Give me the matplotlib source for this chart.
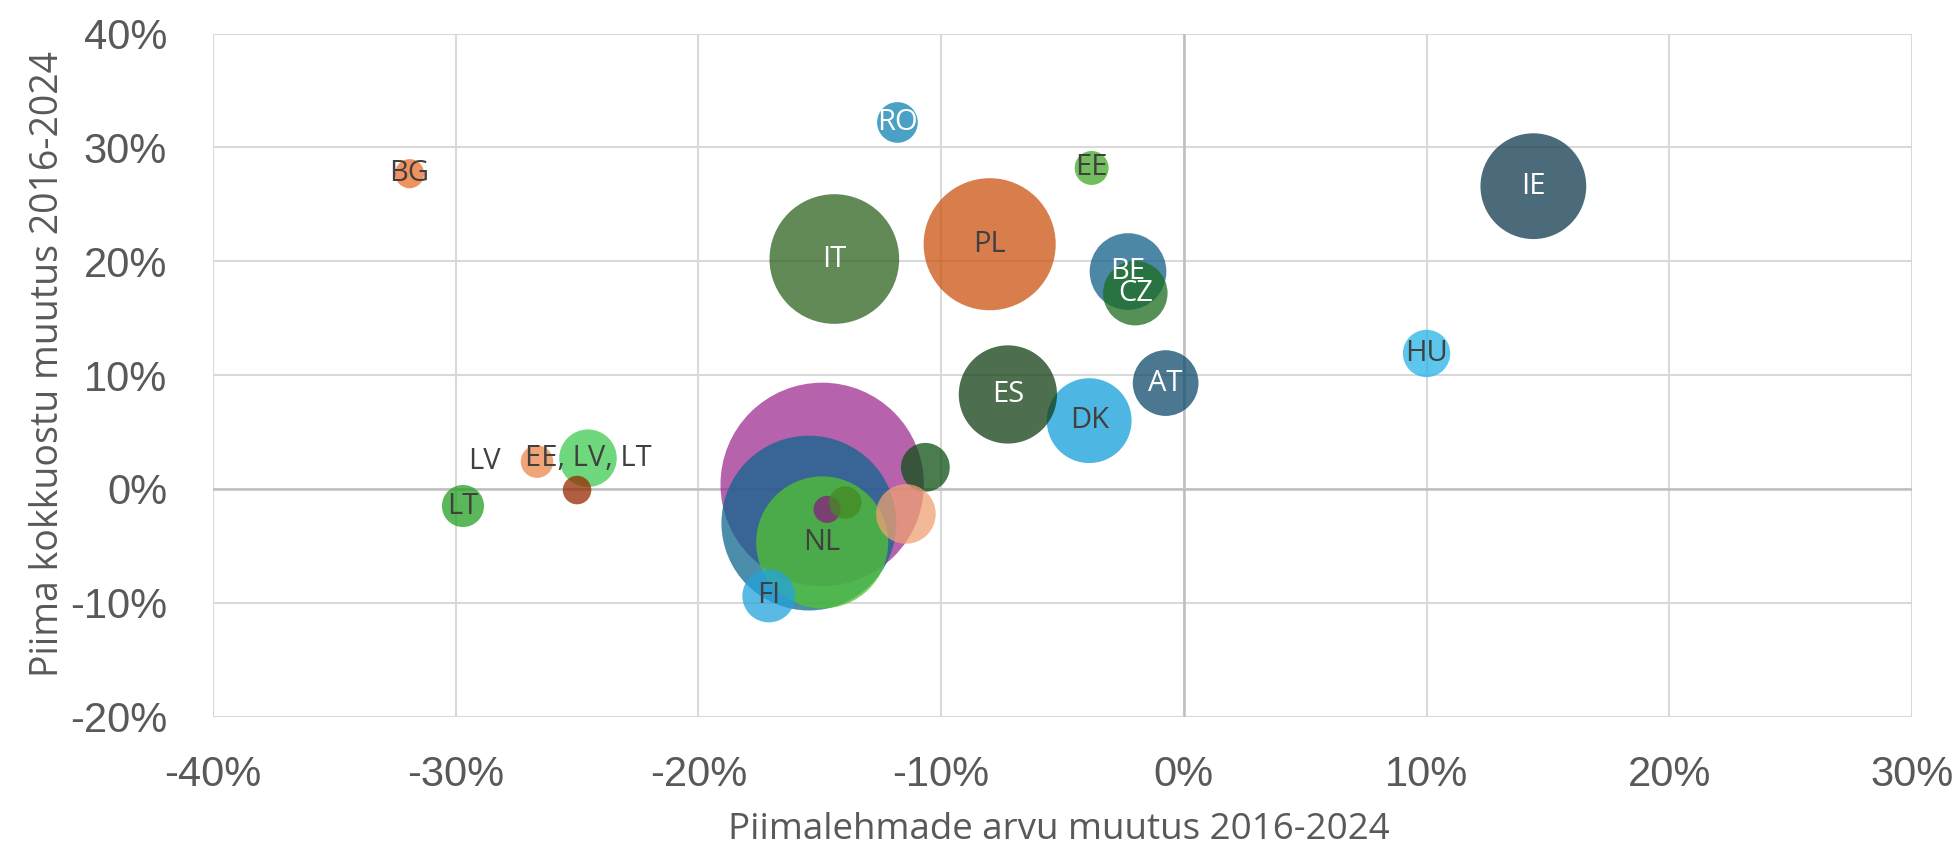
import matplotlib.pyplot as plt
from matplotlib.ticker import PercentFormatter

plt.rcParams['axes.unicode_minus'] = False

# muutus 2016-2024 (%), mullide suurus = piima kogus (tuh t)
labels = ['', '', 'NL', '', '', '', '', 'FI', 'BG', 'RO', 'EE', 'IE', 'IT', 'PL',
          'BE', 'CZ', 'HU', 'AT', 'DK', 'ES', 'LT', 'LV', 'EE, LV, LT', '']
lehmad = [-14.9, -15.45, -14.9, -14.7, -13.95, -10.65, -11.45, -17.1, -31.9, -11.8,
          -3.8, 14.4, -14.4, -8.0, -2.3, -2.0, 10.0, -0.75, -3.9, -7.25,
          -29.7, -26.65, -24.55, -25.0]
kokkuost = [0.4, -3.0, -4.7, -1.8, -1.2, 1.9, -2.2, -9.4, 27.7, 32.2,
            28.2, 26.6, 20.2, 21.5, 19.1, 17.2, 11.9, 9.3, 6.0, 8.3,
            -1.5, 2.4, 2.7, -0.1]
kogus = [32500, 24000, 13700, 575, 830, 1870, 2790, 2200, 665, 1300,
         906, 8790, 13200, 13700, 4620, 3270, 1760, 3390, 5650, 7580,
         1390, 830, 2600, 640]
varvid = ['#9E2E90', '#0E678E', '#52C432', '#891E80', '#438A23', '#0E5014', '#F0A273',
          '#24A3DD', '#EA6E2A', '#0E80B3', '#43A828', '#0F3A4F', '#2C631E', '#CB5210',
          '#106088', '#1C6C1F', '#25B3E8', '#0E4B6B', '#129EDA', '#113F14',
          '#24A023', '#EB874B', '#40CC50', '#962B00']
valge = ['RO', 'IE', 'IT', 'BE', 'CZ', 'AT', 'ES']

fig = plt.figure(figsize=(19.54, 8.48), dpi=100)
ax = fig.add_axes([0.109, 0.155, 0.8695, 0.8053])

# mulli pindala ~ kogus
ax.scatter(lehmad, kokkuost, s=[k * 0.66 for k in kogus], c=varvid, alpha=0.75,
           linewidths=0, zorder=3)

for i in range(len(labels)):
    if labels[i] == '':
        continue
    col = 'white' if labels[i] in valge else '#404040'
    dx = -38 if labels[i] == 'LV' else 0
    ax.annotate(labels[i], (lehmad[i], kokkuost[i]), xytext=(dx, 0),
                textcoords='offset points', ha='center', va='center',
                fontsize=21, color=col, family='Open Sans', zorder=5)

ax.set_xlim(-40, 30)
ax.set_ylim(-20, 40)
ax.set_xticks(range(-40, 31, 10))
ax.set_yticks(range(-20, 41, 10))
ax.xaxis.set_major_formatter(PercentFormatter(decimals=0))
ax.yaxis.set_major_formatter(PercentFormatter(decimals=0))
ax.grid(True, color='#D9D9D9', linewidth=1.5, zorder=0)
ax.set_axisbelow(True)
ax.axhline(0, color='#BFBFBF', linewidth=1.8, zorder=1)
ax.axvline(0, color='#BFBFBF', linewidth=1.8, zorder=1)
for s in ax.spines.values():
    s.set_visible(False)
ax.tick_params(length=0, labelsize=30, labelcolor='#595959')
ax.tick_params(axis='x', pad=28)
ax.tick_params(axis='y', pad=33)
for t in ax.get_xticklabels() + ax.get_yticklabels():
    t.set_family('Liberation Sans')

ax.set_xlabel('Piimalehmade arvu muutus 2016-2024', fontsize=26.5, color='#595959',
              family='Open Sans')
ax.set_ylabel('Piima kokkuostu muutus 2016-2024', fontsize=27, color='#595959',
              family='Open Sans')
ax.xaxis.set_label_coords(0.498, -0.14)
ax.yaxis.set_label_coords(-0.086, 0.516)

plt.savefig('out.png')
